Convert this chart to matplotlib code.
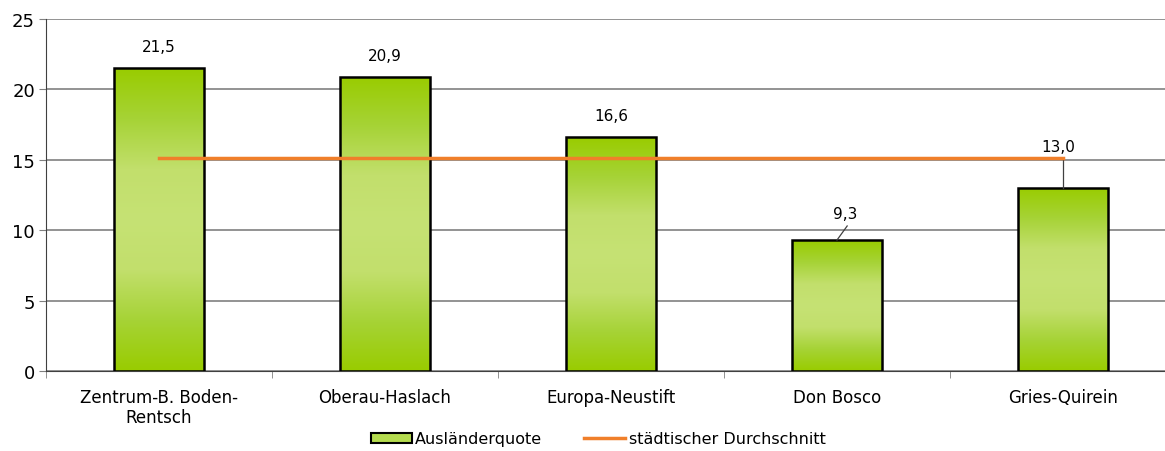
import matplotlib
matplotlib.use("Agg")
import matplotlib.pyplot as plt
import numpy as np
from matplotlib.colors import LinearSegmentedColormap
from matplotlib.patches import Patch
from matplotlib.lines import Line2D

categories = ["Zentrum-B. Boden-\nRentsch", "Oberau-Haslach", "Europa-Neustift", "Don Bosco", "Gries-Quirein"]
quote = [21.5, 20.9, 16.6, 9.3, 13.0]
labels = ["21,5", "20,9", "16,6", "9,3", "13,0"]
city_avg = 15.1

plt.rcParams["font.family"] = ["DejaVu Sans"]

fig = plt.figure(figsize=(11.65, 4.52), dpi=100)
ax = fig.add_axes([46 / 1165, 80 / 452, 1130 / 1165, 352 / 452])

x = np.arange(len(categories))
width = 0.4
cmap = LinearSegmentedColormap.from_list("g", ["#99cc00", "#a6d336", "#c2df6c", "#c6e274", "#c2df6c", "#a6d336", "#99cc00"])
grad = np.linspace(0, 1, 256).reshape(-1, 1)

bars = ax.bar(x, quote, width=width, facecolor="none", edgecolor="black", linewidth=1.8, zorder=3)
for b in bars:
    im = ax.imshow(grad, cmap=cmap, aspect="auto", zorder=2,
                   extent=[b.get_x(), b.get_x() + b.get_width(), 0, b.get_height()])
    im.set_clip_path(b)

ax.plot([x[0], x[-1]], [city_avg, city_avg], color="#f07f2a", linewidth=2.5, zorder=4)

# data labels: (dx, dy) text offset, leader end (dx, dy) or None
label_pos = [(0.0, 1.0), (0.0, 1.0), (0.0, 1.0), (0.035, 1.35), (-0.02, 2.4)]
leader_end = [None, None, None, (0.045, 1.0), (0.0, 2.05)]
for xi, v, lab, (dx, dy), lead in zip(x, quote, labels, label_pos, leader_end):
    ax.text(xi + dx, v + dy, lab, ha="center", va="bottom", fontsize=11, zorder=5)
    if lead:
        ax.plot([xi, xi + lead[0]], [v, v + lead[1]], color="#404040", linewidth=0.9, zorder=3)

ax.set_xlim(-0.5, len(categories) - 0.5)
ax.set_ylim(0, 25)
ax.set_yticks(range(0, 26, 5))
ax.set_xticks(x)
ax.set_xticklabels(categories, fontsize=12)
ax.set_xticks(np.arange(-0.5, len(categories), 1), minor=True)
ax.tick_params(axis="x", which="major", length=0, pad=12)
ax.tick_params(axis="x", which="minor", length=5, color="#808080")
ax.tick_params(axis="y", labelsize=13, length=5, color="#808080", pad=3)
ax.yaxis.grid(True, color="#808080", linewidth=1.2)
ax.set_axisbelow(True)
for s in ["top", "right"]:
    ax.spines[s].set_visible(False)
ax.spines["left"].set_color("#404040")
ax.spines["bottom"].set_color("#404040")

handles = [Patch(facecolor="#b5dc4f", edgecolor="black", linewidth=1.5),
           Line2D([0], [0], color="#f07f2a", linewidth=2.5)]
fig.legend(handles, ["Ausländerquote", "städtischer Durchschnitt"], loc="center",
           bbox_to_anchor=(598 / 1165, 1 - 440 / 452), ncol=2, frameon=False,
           fontsize=11.5, handlelength=2.6, handleheight=0.6, handletextpad=0.2, columnspacing=2.6)

fig.savefig("out.png", dpi=100)
